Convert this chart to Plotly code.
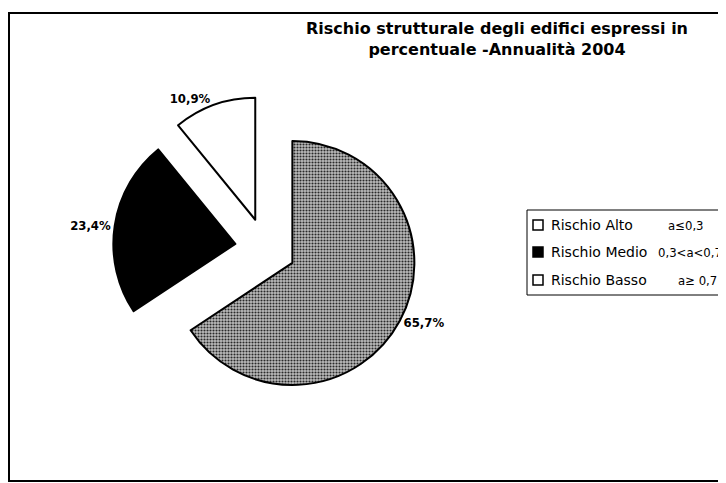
import plotly.graph_objects as go

categories = ["Rischio Alto", "Rischio Medio", "Rischio Basso"]
ranges = ["a≤0,3", "0,3<a<0,7", "a≥ 0,7"]
values = [10.9, 23.4, 65.7]
colors = ["#ffffff", "#000000", "#a0a0a0"]
legend_swatch = ["#ffffff", "#000000", "#ffffff"]

W, H = 726, 483
OFF = 8  # page body margin of the html page


def px(x):
    return (x - OFF) / W


def py(y):
    return 1 - (y - OFF) / H


first_share = values[0] / sum(values) * 360

fig = go.Figure(go.Pie(
    labels=categories,
    values=values,
    sort=False,
    direction="counterclockwise",
    rotation=-first_share,
    pull=[0.25, 0.25, 0.25],
    marker=dict(colors=colors, line=dict(color="#000000", width=2),
                pattern=dict(shape=["", "", "."], fgcolor="#2a2a2a", bgcolor="#bcbcbc",
                             size=3, solidity=0.4)),
    texttemplate="%{value:.1f}%",
    textposition="outside",
    textfont=dict(family="DejaVu Sans Condensed", size=13, color="#000000", weight="bold"),
    domain=dict(x=[px(113), px(418)], y=[py(401), py(96)]),
    hoverinfo="label+percent",
    showlegend=False,
))

shapes = [dict(type="rect", xref="paper", yref="paper",
               x0=px(9), x1=1.05, y0=py(481), y1=py(13),
               line=dict(color="#000000", width=2), fillcolor="rgba(0,0,0,0)", layer="below"),
          dict(type="rect", xref="paper", yref="paper",
               x0=px(527), x1=1.05, y0=py(295), y1=py(210),
               line=dict(color="#000000", width=1), fillcolor="#ffffff")]
annotations = []
item_y = [225, 252, 280]
range_x = [666, 656, 676]
for i, (cat, rng) in enumerate(zip(categories, ranges)):
    yc = item_y[i]
    shapes.append(dict(type="rect", xref="paper", yref="paper",
                       x0=px(533), x1=px(543), y0=py(yc + 5), y1=py(yc - 5),
                       line=dict(color="#000000", width=1.5), fillcolor=legend_swatch[i]))
    annotations.append(dict(text=cat, xref="paper", yref="paper", x=px(549), y=py(yc),
                            xanchor="left", yanchor="middle", showarrow=False,
                            font=dict(family="DejaVu Sans", size=14, color="#000000")))
    annotations.append(dict(text=rng, xref="paper", yref="paper", x=px(range_x[i]), y=py(yc),
                            xanchor="left", yanchor="middle", showarrow=False,
                            font=dict(family="DejaVu Sans Condensed", size=13, color="#000000")))

fig.update_layout(
    width=W, height=H,
    separators=",.",
    margin=dict(l=0, r=0, t=0, b=0, autoexpand=False),
    paper_bgcolor="#ffffff",
    plot_bgcolor="#ffffff",
    showlegend=False,
    title=dict(
        text="Rischio strutturale degli edifici espressi in<br>percentuale -Annualità 2004",
        x=px(497), xanchor="center", y=py(34), yanchor="top",
        font=dict(family="DejaVu Sans", size=16, color="#000000", weight="bold"),
    ),
    shapes=shapes,
    annotations=annotations,
)

fig.write_html("out.html")
